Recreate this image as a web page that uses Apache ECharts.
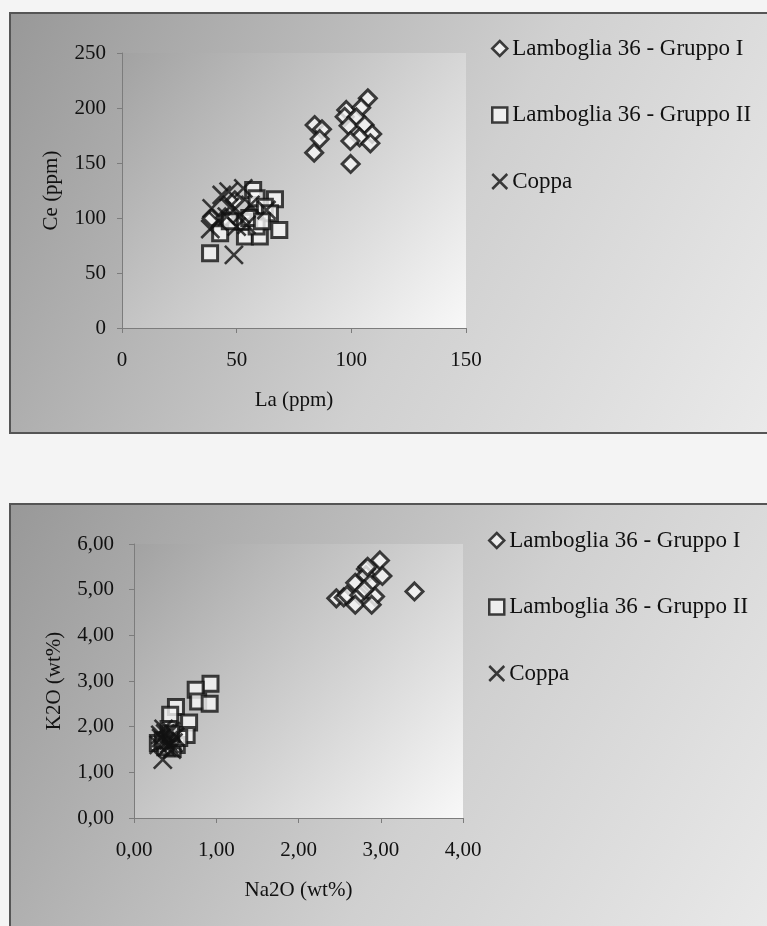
<!DOCTYPE html>
<html><head><meta charset="utf-8">
<script src="https://cdn.jsdelivr.net/npm/echarts@6/dist/echarts.min.js"></script>
<style>html,body{margin:0;padding:0;background:#f4f4f4;} #c{width:767px;height:926px;}</style>
</head><body><div id="c"></div>
<script>
// ---- data ----
const seriesNames = ['Lamboglia 36 - Gruppo I', 'Lamboglia 36 - Gruppo II', 'Coppa'];

const xTicksLa = [0, 50, 100, 150];
const yTicksCe = [0, 50, 100, 150, 200, 250];
const xTicksNa = [0, 1, 2, 3, 4];
const yTicksK = [0, 1, 2, 3, 4, 5, 6];

const xNameTop = 'La (ppm)';
const yNameTop = 'Ce (ppm)';
const xNameBottom = 'Na2O (wt%)';
const yNameBottom = 'K2O (wt%)';

// Chart 1: La (ppm) vs Ce (ppm)
const laCeGruppoI = [
  [83.8,159.4],[84.0,184.5],[87.2,180.6],[86.2,171.8],[97.8,198.2],[97.1,192.0],
  [107.2,208.8],[104.3,200.3],[102.2,191.5],[98.8,183.9],[105.8,184.5],[109.1,176.4],
  [103.6,173.4],[99.6,170.0],[108.3,167.9],[99.7,149.1],
  [39.1,99.8],[45.0,100.5],[49.2,116.0],[56.0,101.0]
];
const laCeGruppoII = [
  [38.4,68.0],[42.8,86.2],[53.6,83.1],[60.1,83.1],[68.6,89.2],[66.7,117.0],
  [57.2,125.5],[58.7,117.9],[62.3,110.3],[64.5,104.3],[52.9,96.7],[58.7,92.2],
  [55.5,100.0],[61.0,97.0],[47.0,97.0]
];
const laCeCoppa = [
  [48.8,66.5],[43.5,120.9],[46.5,124.0],[52.9,127.0],[39.1,108.8],[38.5,90.0],
  [45.7,101.3],[50.0,92.2],[54.3,93.7],[63.0,107.3],[47.0,110.0],[52.0,103.0],
  [56.0,112.0],[42.0,97.0]
];

// Chart 2: Na2O (wt%) vs K2O (wt%)
const naKGruppoI = [
  [2.46,4.81],[2.55,4.83],[2.59,4.88],[2.69,5.15],[2.74,4.88],[2.69,4.67],
  [2.82,5.45],[2.82,5.32],[2.87,5.13],[2.93,4.85],[2.89,4.67],[2.99,5.64],
  [3.02,5.30],[3.41,4.96],[2.80,5.00],[2.84,5.50]
];
const naKGruppoII = [
  [0.93,2.94],[0.75,2.81],[0.78,2.55],[0.92,2.50],[0.51,2.43],[0.44,2.26],
  [0.67,2.09],[0.64,1.82],[0.29,1.64],[0.52,1.60],[0.47,1.52],[0.38,1.55],
  [0.42,1.95],[0.55,1.75],[0.35,1.70],[0.45,1.85]
];
const naKCoppa = [
  [0.35,1.28],[0.30,1.60],[0.33,1.75],[0.38,1.85],[0.42,1.70],[0.45,1.90],
  [0.36,1.95],[0.48,1.65],[0.40,1.55],[0.32,1.82],[0.50,1.78],[0.43,1.62],
  [0.38,1.68],[0.46,1.50]
];

// ---- styling ----
const FONT = 'Liberation Serif';
const TXT = '#111';
const AX = '#7c7c7c';
const INK = '#111';
const FILL = '#f6f6f6';
const X_PATH = 'path://M0,0L16,16M16,0L0,16';

const symbolDefs = [
  { symbol: 'diamond', symbolSize: 17, itemStyle: { color: FILL, borderColor: INK, borderWidth: 3 } },
  { symbol: 'rect', symbolSize: 15, itemStyle: { color: FILL, borderColor: INK, borderWidth: 3 } },
  { symbol: X_PATH, symbolSize: 18, itemStyle: { color: INK, borderColor: INK, borderWidth: 2.6 } }
];

function makeSeries(idx, data, axisIdx) {
  const d = symbolDefs[idx];
  return {
    type: 'scatter', name: seriesNames[idx],
    xAxisIndex: axisIdx, yAxisIndex: axisIdx,
    symbol: d.symbol, symbolSize: d.symbolSize,
    itemStyle: d.itemStyle, data: data,
    emphasis: { disabled: true }, animation: false
  };
}

function axisCommon(ticks, fmt, margin) {
  return {
    type: 'value',
    min: ticks[0], max: ticks[ticks.length - 1], interval: ticks[1] - ticks[0],
    axisLine: { show: true, lineStyle: { color: AX, width: 1 } },
    axisTick: { show: true, length: 5, lineStyle: { color: AX } },
    splitLine: { show: false },
    axisLabel: { color: TXT, fontFamily: FONT, fontSize: 21, margin: margin, formatter: fmt },
    nameTextStyle: { color: TXT, fontFamily: FONT, fontSize: 21 },
    nameLocation: 'middle'
  };
}

const fmtInt = v => String(v);
const fmtComma = v => v.toFixed(2).replace('.', ',');

function plotBg() {
  return new echarts.graphic.LinearGradient(0, 0, 1, 1, [
    { offset: 0, color: '#a2a2a2' },
    { offset: 1, color: '#f8f8f8' }
  ]);
}
function frameBg() {
  return new echarts.graphic.LinearGradient(0, 0, 1, 1, [
    { offset: 0, color: '#989898' },
    { offset: 0.55, color: '#d0d0d0' },
    { offset: 1, color: '#ececec' }
  ]);
}

const chart = echarts.init(document.getElementById('c'), null, { renderer: 'canvas' });

const legendBase = {
  orient: 'vertical', itemGap: 43.5, itemWidth: 15, itemHeight: 15,
  textStyle: { color: TXT, fontFamily: FONT, fontSize: 23 },
  itemStyle: { borderWidth: 2.5 },
  data: seriesNames, selectedMode: false
};

chart.setOption({
  backgroundColor: '#f4f4f4',
  animation: false,
  graphic: [
    { type: 'rect', z: -100, shape: { x: 10, y: 13, width: 790, height: 420 },
      style: { fill: frameBg(), stroke: '#555', lineWidth: 2 } },
    { type: 'rect', z: -100, shape: { x: 10, y: 504, width: 790, height: 460 },
      style: { fill: frameBg(), stroke: '#555', lineWidth: 2 } }
  ],
  grid: [
    { left: 122, top: 53, width: 344, height: 275, show: true, borderWidth: 0, backgroundColor: plotBg() },
    { left: 134, top: 544, width: 329, height: 274, show: true, borderWidth: 0, backgroundColor: plotBg() }
  ],
  xAxis: [
    Object.assign(axisCommon(xTicksLa, fmtInt, 22), { gridIndex: 0, name: xNameTop, nameGap: 62 }),
    Object.assign(axisCommon(xTicksNa, fmtComma, 22), { gridIndex: 1, name: xNameBottom, nameGap: 62 })
  ],
  yAxis: [
    Object.assign(axisCommon(yTicksCe, fmtInt, 16), { gridIndex: 0, name: yNameTop, nameGap: 60 }),
    Object.assign(axisCommon(yTicksK, fmtComma, 20), { gridIndex: 1, name: yNameBottom, nameGap: 69 })
  ],
  legend: [
    Object.assign({}, legendBase, { left: 486, top: 32 }),
    Object.assign({}, legendBase, { left: 483, top: 524 })
  ],
  series: [
    makeSeries(0, laCeGruppoI, 0),
    makeSeries(1, laCeGruppoII, 0),
    makeSeries(2, laCeCoppa, 0),
    makeSeries(0, naKGruppoI, 1),
    makeSeries(1, naKGruppoII, 1),
    makeSeries(2, naKCoppa, 1)
  ]
});
</script>
</body></html>
